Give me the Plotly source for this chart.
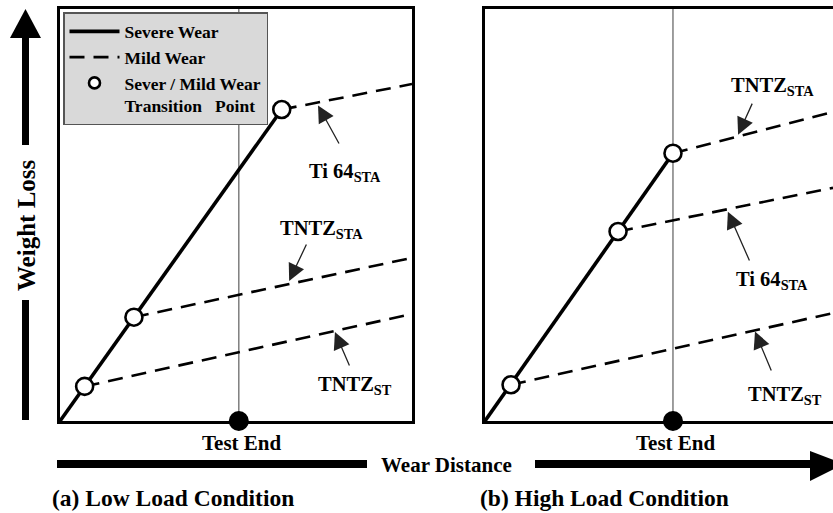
import plotly.graph_objects as go

W, H = 833, 513
FONT = "Liberation Serif"


def px(x):
    return x / W


def py(y):
    return 1 - y / H


# ---- (a) Low load condition -------------------------------------------
low_materials = ["TNTZ_ST", "TNTZ_STA", "Ti 64_STA"]
low_transition_x = [0.7, 2.1, 6.3]
low_transition_y = [0.84, 2.52, 7.56]
low_end_x = 10.0
low_end_y = [2.60, 3.96, 8.18]
low_test_end = 5.08

# ---- (b) High load condition ------------------------------------------
high_materials = ["TNTZ_ST", "Ti 64_STA", "TNTZ_STA"]
high_transition_x = [0.74, 3.78, 5.34]
high_transition_y = [0.88, 4.60, 6.50]
high_end_x = 9.886
high_end_y = [2.62, 5.66, 7.50]
high_test_end = 5.34

# label positions (text centre) and arrow tail/head, in data units
low_labels = ["TNTZ<sub>ST</sub>", "TNTZ<sub>STA</sub>", "Ti 64<sub>STA</sub>"]
low_label_xy = [(8.38, 0.87), (7.44, 4.64), (8.10, 6.02)]
low_arrow_tail = [(8.24, 1.31), (7.02, 4.32), (7.95, 6.70)]
low_arrow_head = [(7.81, 2.16), (6.51, 3.40), (7.33, 7.66)]

high_labels = ["TNTZ<sub>ST</sub>", "Ti 64<sub>STA</sub>", "TNTZ<sub>STA</sub>"]
high_label_xy = [(8.52, 0.61), (8.15, 3.40), (8.18, 8.11)]
high_arrow_tail = [(8.15, 1.19), (7.53, 3.86), (7.61, 7.74)]
high_arrow_head = [(7.67, 2.17), (6.90, 5.08), (7.19, 6.95)]

DASH = "15px,9px"
TRANSITION_NAME = "Sever / Mild Wear<br>Transition\u00a0\u00a0\u00a0Point"

fig = go.Figure()


def add_panel(xa, ya, tx, ty, end_x, end_y, test_end, legend):
    # test end marker line
    fig.add_trace(go.Scatter(
        x=[test_end, test_end], y=[0, 10], xaxis=xa, yaxis=ya,
        mode="lines", line=dict(color="#6a6a6a", width=1.3),
        showlegend=False, hoverinfo="skip"))
    # mild wear (after each transition)
    dx, dy = [], []
    for x0, y0, y1 in zip(tx, ty, end_y):
        dx += [x0, end_x, None]
        dy += [y0, y1, None]
    fig.add_trace(go.Scatter(
        x=dx, y=dy, xaxis=xa, yaxis=ya, mode="lines",
        line=dict(color="black", width=2.6, dash=DASH),
        name="Mild Wear", legendrank=2, showlegend=legend,
        hoverinfo="skip"))
    # severe wear (from origin through all transitions)
    i_top = ty.index(max(ty))
    fig.add_trace(go.Scatter(
        x=[0, tx[i_top]], y=[0, ty[i_top]], xaxis=xa, yaxis=ya,
        mode="lines", line=dict(color="black", width=3.6),
        name="Severe Wear", legendrank=1, showlegend=legend,
        hoverinfo="skip"))
    # transition points
    fig.add_trace(go.Scatter(
        x=tx, y=ty, xaxis=xa, yaxis=ya, mode="markers",
        marker=dict(symbol="circle", size=17, color="white",
                    line=dict(color="black", width=2.6)),
        name=TRANSITION_NAME, legendgroup="transition", showlegend=False,
        cliponaxis=False, hoverinfo="skip"))
    # test end dot
    fig.add_trace(go.Scatter(
        x=[test_end], y=[0], xaxis=xa, yaxis=ya, mode="markers",
        marker=dict(size=20, color="black"), cliponaxis=False,
        showlegend=False, hoverinfo="skip"))


add_panel("x", "y", low_transition_x, low_transition_y, low_end_x,
          low_end_y, low_test_end, True)
add_panel("x2", "y2", high_transition_x, high_transition_y, high_end_x,
          high_end_y, high_test_end, False)

# legend entry for the transition points (smaller symbol than on the plot)
fig.add_trace(go.Scatter(
    x=[None], y=[None], mode="markers",
    marker=dict(symbol="circle", size=11, color="white",
                line=dict(color="black", width=2.6)),
    name=TRANSITION_NAME, legendgroup="transition", legendrank=3,
    showlegend=True, hoverinfo="skip"))

annotations = []
label_font = dict(family=FONT, size=20.5, color="black", weight="bold")


def add_labels(xr, yr, labels, pos, tails, heads):
    for t, (lx, ly), (ax, ay), (hx, hy) in zip(labels, pos, tails, heads):
        annotations.append(dict(
            x=lx, y=ly, xref=xr, yref=yr, text=t, showarrow=False,
            font=label_font, xanchor="center", yanchor="middle"))
        annotations.append(dict(
            x=hx, y=hy, ax=ax, ay=ay, xref=xr, yref=yr, axref=xr, ayref=yr,
            text="", showarrow=True, arrowhead=2, arrowsize=2.6,
            arrowwidth=1.3, arrowcolor="#222222", standoff=0, startstandoff=0))


add_labels("x", "y", low_labels, low_label_xy, low_arrow_tail, low_arrow_head)
add_labels("x2", "y2", high_labels, high_label_xy, high_arrow_tail,
           high_arrow_head)

# "Test End" labels
for xr, te in (("x", low_test_end), ("x2", high_test_end)):
    annotations.append(dict(
        x=te, y=py(443), xref=xr, yref="paper", text="Test End",
        showarrow=False, xshift=3, xanchor="center", yanchor="middle",
        font=dict(family=FONT, size=21, color="black", weight="bold")))

# axis titles and panel captions
annotations += [
    dict(x=px(26), y=py(225), xref="paper", yref="paper", text="Weight Loss",
         textangle=-90, showarrow=False, xanchor="center", yanchor="middle",
         font=dict(family=FONT, size=25, color="black", weight="bold")),
    dict(x=px(446), y=py(465), xref="paper", yref="paper",
         text="Wear Distance", showarrow=False, xanchor="center",
         yanchor="middle",
         font=dict(family=FONT, size=21, color="black", weight="bold")),
    dict(x=px(50), y=py(498), xref="paper", yref="paper",
         text="(a) Low Load Condition", showarrow=False, xanchor="left",
         yanchor="middle",
         font=dict(family=FONT, size=23.5, color="black", weight="bold")),
    dict(x=px(478), y=py(498), xref="paper", yref="paper",
         text="(b) High Load Condition", showarrow=False, xanchor="left",
         yanchor="middle",
         font=dict(family=FONT, size=23.5, color="black", weight="bold")),
]


def rect(x0, y0, x1, y1):
    return dict(type="rect", xref="paper", yref="paper",
                x0=px(x0), x1=px(x1), y0=py(y0), y1=py(y1),
                fillcolor="black", line=dict(width=0), layer="above")


def poly(points):
    d = "M " + " L ".join(f"{px(a):.5f},{py(b):.5f}" for a, b in points) + " Z"
    return dict(type="path", xref="paper", yref="paper", path=d,
                fillcolor="black", line=dict(width=0), layer="above")


shapes = [
    # vertical "Weight Loss" arrow
    rect(22, 36, 29, 145),
    poly([(10, 38), (25.5, 9), (41, 38)]),
    rect(22, 300, 29, 420),
    # horizontal "Wear Distance" arrow
    rect(57, 460, 367, 468),
    rect(535, 460, 812, 468),
    poly([(810, 451), (844, 464), (810, 481)]),
]

axis_common = dict(showgrid=False, zeroline=False, showticklabels=False,
                   ticks="", showline=True, linecolor="black", linewidth=3)

fig.update_layout(
    width=W, height=H, margin=dict(l=0, r=0, t=0, b=0),
    paper_bgcolor="white", plot_bgcolor="white",
    xaxis=dict(domain=[px(60), px(412)], range=[0, low_end_x], mirror=True,
               **axis_common),
    yaxis=dict(domain=[py(421), py(9)], range=[0, 10], mirror=True,
               **axis_common),
    xaxis2=dict(domain=[px(485), 1.0], range=[0, high_end_x], mirror=True,
                anchor="y2", **axis_common),
    yaxis2=dict(domain=[py(421), py(9)], range=[0, 10], mirror=False,
                anchor="x2", **axis_common),
    showlegend=True,
    legend=dict(x=px(63), y=py(12), xanchor="left", yanchor="top",
                bgcolor="#d9d9d9", bordercolor="#555555", borderwidth=1.5,
                font=dict(family=FONT, size=17.5, color="black",
                          weight="bold"),
                itemwidth=50, valign="top", tracegroupgap=0,
                itemsizing="trace", traceorder="normal"),
    annotations=annotations,
    shapes=shapes,
)

fig.write_html("out.html")
